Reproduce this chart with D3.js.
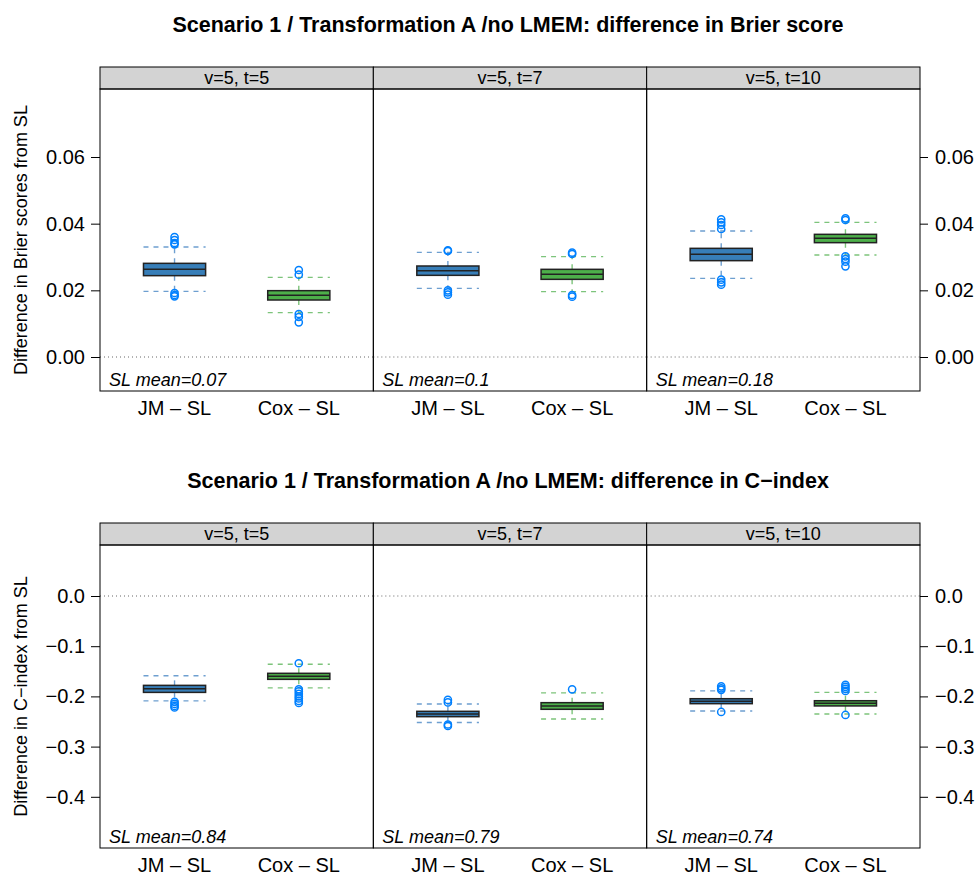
<!DOCTYPE html>
<html><head><meta charset="utf-8">
<script src="https://cdn.jsdelivr.net/npm/d3@7"></script>
<style>body{margin:0;background:#fff}svg{display:block;font-family:"Liberation Sans",Arial,sans-serif}</style>
</head><body><svg id="c" width="979" height="875"></svg>
<script>
const categories = ["JM \u2013 SL", "Cox \u2013 SL"];
const panels = ["v=5, t=5", "v=5, t=7", "v=5, t=10"];
const brierTitle = "Scenario 1 / Transformation A /no LMEM: difference in Brier score";
const cTitle = "Scenario 1 / Transformation A /no LMEM: difference in C\u2212index";
const brierYLabel = "Difference in Brier scores from SL";
const cYLabel = "Difference in C\u2212index from SL";
const brierSLMean = ["0.07", "0.1", "0.18"];
const cSLMean = ["0.84", "0.79", "0.74"];
const brierTicks = [0.00, 0.02, 0.04, 0.06];
const cTicks = [0.0, -0.1, -0.2, -0.3, -0.4];
// [lower whisker, Q1, median, Q3, upper whisker] per panel, per category
const brierStats = [
  [[0.0197, 0.0244, 0.0263, 0.0281, 0.0330], [0.0133, 0.0171, 0.0185, 0.0199, 0.0239]],
  [[0.0206, 0.0245, 0.0259, 0.0273, 0.0314], [0.0196, 0.0233, 0.0248, 0.0263, 0.0301]],
  [[0.0236, 0.0289, 0.0308, 0.0326, 0.0378], [0.0306, 0.0343, 0.0356, 0.0368, 0.0404]]
];
const brierOutliers = [
  [[0.0360, 0.0351, 0.0342, 0.0338, 0.0192, 0.0186, 0.0182], [0.0261, 0.0247, 0.0129, 0.0120, 0.0104]],
  [[0.0320, 0.0318, 0.0200, 0.0194, 0.0187], [0.0313, 0.0309, 0.0186, 0.0181]],
  [[0.0413, 0.0404, 0.0396, 0.0384, 0.0232, 0.0224, 0.0217], [0.0416, 0.0411, 0.0302, 0.0294, 0.0286, 0.0272]]
];
const cStats = [
  [[-0.209, -0.192, -0.185, -0.178, -0.159], [-0.183, -0.166, -0.160, -0.154, -0.136]],
  [[-0.252, -0.2404, -0.235, -0.2297, -0.215], [-0.245, -0.2257, -0.219, -0.2125, -0.193]],
  [[-0.229, -0.2145, -0.2096, -0.2046, -0.189], [-0.235, -0.219, -0.2138, -0.2086, -0.192]]
];
const cOutliers = [
  [[-0.211, -0.215, -0.219, -0.222], [-0.134, -0.186, -0.190, -0.195, -0.200, -0.204, -0.209, -0.213]],
  [[-0.207, -0.212, -0.256, -0.259], [-0.186]],
  [[-0.180, -0.184, -0.187, -0.231], [-0.177, -0.181, -0.185, -0.189, -0.237]]
];
const boxFill = ["#377EB8", "#4DAF4A"];
const umbrellaCol = ["#6E9FD0", "#7DC47B"];
const outlierCol = "#0080ff";

const svg = d3.select("#c");

function drawBlock(cfg) {
  const g = svg.append("g");
  const panelX = d3.scaleBand().domain(panels).range([100, 920]);
  const y = d3.scaleLinear().domain(cfg.yDomain).range([cfg.bottom, cfg.top]);

  g.append("text").attr("x", 508).attr("y", cfg.titleY).attr("text-anchor", "middle")
    .attr("font-weight", "bold").attr("font-size", 21.5).text(cfg.title);

  g.append("text").attr("transform", `translate(27,${(cfg.top + cfg.bottom) / 2}) rotate(-90)`)
    .attr("text-anchor", "middle").attr("font-size", 18).text(cfg.yLabel);

  panels.forEach((p, i) => {
    const x0 = panelX(p), w = panelX.bandwidth();
    const x = d3.scalePoint().domain(categories).range([x0, x0 + w]).padding(0.6);
    const step = x.step();
    const bw = step * 0.5;
    const pg = g.append("g");

    // strip
    pg.append("rect").attr("x", x0).attr("y", cfg.top - 22).attr("width", w).attr("height", 22)
      .attr("fill", "#d3d3d3").attr("stroke", "#000").attr("stroke-width", 1);
    pg.append("text").attr("x", x0 + w / 2).attr("y", cfg.top - 5).attr("text-anchor", "middle")
      .attr("font-size", 18).text(p);

    // reference line at zero
    pg.append("line").attr("x1", x0).attr("x2", x0 + w).attr("y1", y(0)).attr("y2", y(0))
      .attr("stroke", "#666").attr("stroke-width", 1).attr("stroke-dasharray", "1,3");

    categories.forEach((c, k) => {
      const s = cfg.stats[i][k];
      const cx = x(c);
      const ug = pg.append("g").attr("stroke", umbrellaCol[k]).attr("stroke-width", 1.4)
        .attr("stroke-dasharray", "5,5").attr("fill", "none");
      // whiskers
      ug.append("line").attr("x1", cx).attr("x2", cx).attr("y1", y(s[3])).attr("y2", y(s[4]));
      ug.append("line").attr("x1", cx).attr("x2", cx).attr("y1", y(s[1])).attr("y2", y(s[0]));
      ug.append("line").attr("x1", cx - bw / 2).attr("x2", cx + bw / 2).attr("y1", y(s[4])).attr("y2", y(s[4]));
      ug.append("line").attr("x1", cx - bw / 2).attr("x2", cx + bw / 2).attr("y1", y(s[0])).attr("y2", y(s[0]));
      // box
      pg.append("rect").attr("x", cx - bw / 2).attr("y", y(s[3])).attr("width", bw)
        .attr("height", y(s[1]) - y(s[3])).attr("fill", boxFill[k]).attr("stroke", "#222").attr("stroke-width", 1.5);
      pg.append("line").attr("x1", cx - bw / 2).attr("x2", cx + bw / 2).attr("y1", y(s[2])).attr("y2", y(s[2]))
        .attr("stroke", "#222").attr("stroke-width", 1.5);
      // outliers
      pg.selectAll(null).data(cfg.outliers[i][k]).enter().append("circle")
        .attr("cx", cx).attr("cy", d => y(d)).attr("r", 3.6)
        .attr("fill", "none").attr("stroke", outlierCol).attr("stroke-width", 1.5);
    });

    // frame
    pg.append("rect").attr("x", x0).attr("y", cfg.top).attr("width", w).attr("height", cfg.bottom - cfg.top)
      .attr("fill", "none").attr("stroke", "#000").attr("stroke-width", 1);

    pg.append("text").attr("x", x0 + 9).attr("y", cfg.bottom - 5).attr("font-style", "italic")
      .attr("font-size", 18).text("SL mean=" + cfg.slMean[i]);

    // x labels
    categories.forEach(c => {
      pg.append("text").attr("x", x(c)).attr("y", cfg.bottom + 24).attr("text-anchor", "middle")
        .attr("font-size", 20).text(c);
    });
  });

  const fmt = d3.format(cfg.fmt);
  const left = d3.axisLeft(y).tickValues(cfg.ticks).tickFormat(fmt).tickSize(9).tickPadding(6);
  const right = d3.axisRight(y).tickValues(cfg.ticks).tickFormat(fmt).tickSize(8).tickPadding(7);
  const la = g.append("g").attr("transform", "translate(100,0)").call(left);
  const ra = g.append("g").attr("transform", "translate(920,0)").call(right);
  [la, ra].forEach(a => {
    a.select(".domain").remove();
    a.selectAll("text").attr("font-size", 20).attr("font-family", "Liberation Sans, Arial, sans-serif").attr("fill", "#000");
    a.selectAll("line").attr("stroke", "#000");
  });
}

drawBlock({title: brierTitle, titleY: 32, yLabel: brierYLabel, top: 89, bottom: 391,
  yDomain: [-0.0102, 0.0804], ticks: brierTicks, fmt: ".2f", stats: brierStats, outliers: brierOutliers, slMean: brierSLMean});
drawBlock({title: cTitle, titleY: 488, yLabel: cYLabel, top: 545, bottom: 848,
  yDomain: [-0.502, 0.1016], ticks: cTicks, fmt: ".1f", stats: cStats, outliers: cOutliers, slMean: cSLMean});
</script></body></html>
